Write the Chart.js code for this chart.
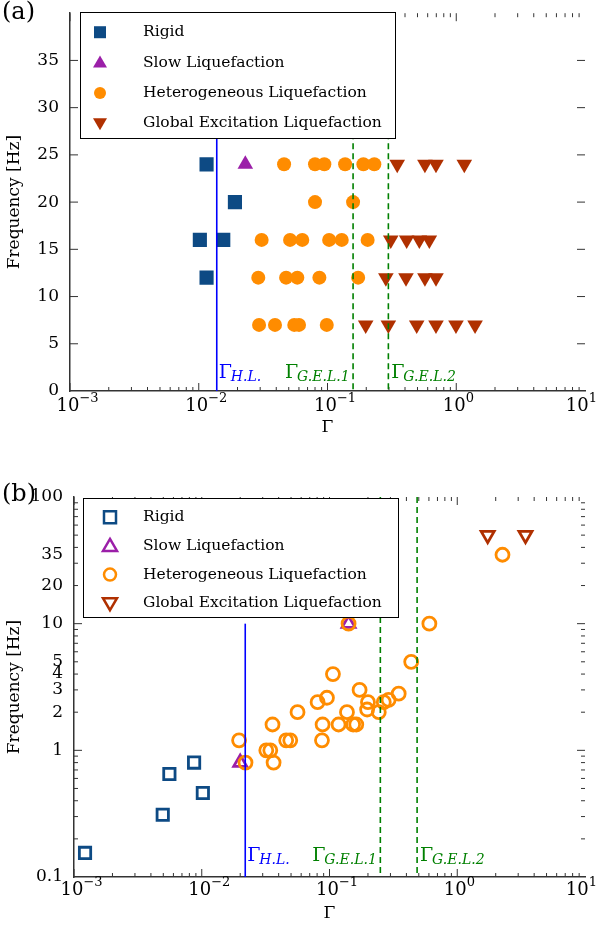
<!DOCTYPE html>
<html><head><meta charset="utf-8">
<script src="https://cdn.jsdelivr.net/npm/chart.js@4"></script>
<style>
body{margin:0;background:#fff;width:597px;height:926px;overflow:hidden;position:relative;font-family:"DejaVu Serif",serif}
.w{position:absolute;left:0;width:597px;height:463px}
.lab{position:absolute;left:2px;font-size:24px;font-family:"DejaVu Serif",serif}
</style></head><body>
<div class="w" style="top:0"><canvas id="a"></canvas></div>
<div class="w" style="top:463px"><canvas id="b"></canvas></div>
<div class="lab" style="top:-3px">(a)</div>
<div class="lab" style="top:479px">(b)</div>
<script>
// Panel (a) data [Gamma, Frequency]
const aRigid=[[0.0115,24],[0.0191,20],[0.0102,16],[0.0155,16],[0.0115,12]];
const aSlow=[[0.023,24]];
const aHet=[[0.046,24],[0.080,24],[0.0945,24],[0.137,24],[0.190,24],[0.231,24],
 [0.080,20],[0.158,20],
 [0.0308,16],[0.0512,16],[0.0637,16],[0.103,16],[0.129,16],[0.205,16],
 [0.029,12],[0.0477,12],[0.0583,12],[0.0865,12],[0.173,12],
 [0.0294,7],[0.0391,7],[0.0552,7],[0.0601,7],[0.0987,7]];
const aGlobal=[[0.348,24],[0.571,24],[0.696,24],[1.155,24],
 [0.310,16],[0.412,16],[0.517,16],[0.618,16],
 [0.284,12],[0.407,12],[0.571,12],[0.696,12],
 [0.198,7],[0.297,7],[0.493,7],[0.696,7],[0.995,7],[1.40,7]];
const aLines=[0.0138,0.158,0.297];
const aYTicks=[0,5,10,15,20,25,30,35];
// Panel (b) data
const bRigid=[[0.00122,0.155],[0.00495,0.31],[0.00558,0.65],[0.00871,0.80],[0.0102,0.46]];
const bSlow=[[0.020,0.80],[0.141,10]];
const bHet=[[0.0196,1.2],[0.022,0.8],[0.032,1.0],[0.0344,1.0],[0.0358,1.6],[0.0365,0.8],
 [0.0458,1.2],[0.0493,1.2],[0.0562,2.0],[0.0807,2.4],[0.0873,1.2],[0.0883,1.6],[0.0955,2.6],
 [0.1064,4.0],[0.1178,1.6],[0.137,2.0],[0.141,10],[0.153,1.6],[0.162,1.6],[0.172,3.0],
 [0.197,2.1],[0.200,2.4],[0.243,2.0],[0.266,2.4],[0.290,2.5],[0.348,2.8],[0.436,5.0],[0.605,10],[2.26,35]];
const bGlobal=[[1.73,50],[3.42,50]];
const bLines=[0.0219,0.250,0.485];
const bYTicks=[0.1,1,2,3,4,5,10,20,35,100];
const xTicks=[0.001,0.01,0.1,1,10];
const xExp=['−3','−2','−1','0','1'];
const names=['Rigid','Slow Liquefaction','Heterogeneous Liquefaction','Global Excitation Liquefaction'];
const cols=['#0d4a84','#9b1fa8','#ff8c00','#b03000'];
const F='"DejaVu Serif", serif';

function pts(arr){return arr.map(p=>({x:p[0],y:p[1]}));}

function overlay(lines,labY,legTop,legH,hollow,logY,tickY){
 return {id:'ov',afterDatasetsDraw(c){
  const ctx=c.ctx,a=c.chartArea,xs=c.scales.x,ys=c.scales.y;
  ctx.save();
  ctx.strokeStyle='#333';ctx.lineWidth=1;
  for(let d=-3;d<1;d++)for(let m=1;m<10;m++){
   const v=m*Math.pow(10,d),px=xs.getPixelForValue(v),L=m==1?8:4;
   ctx.beginPath();ctx.moveTo(px,a.bottom);ctx.lineTo(px,a.bottom-L);ctx.moveTo(px,a.top);ctx.lineTo(px,a.top+L);ctx.stroke();}
  const yt=logY?[0.2,0.3,0.4,0.5,0.6,0.7,0.8,0.9,1,2,3,4,5,6,7,8,9,10,20,30,40,50,60,70,80,90]:[5,10,15,20,25,30,35];
  yt.forEach(v=>{const py=ys.getPixelForValue(v),L=(logY&&[1,10].includes(v))||!logY?8:4;
   ctx.beginPath();ctx.moveTo(a.left,py);ctx.lineTo(a.left+L,py);ctx.moveTo(a.right,py);ctx.lineTo(a.right-L,py);ctx.stroke();});
  ctx.fillStyle='#000';ctx.textBaseline='alphabetic';
  xTicks.forEach((v,i)=>{const px=xs.getPixelForValue(v);
   ctx.font='18px '+F;const w1=ctx.measureText('10').width;
   ctx.font='13px '+F;const w2=ctx.measureText(xExp[i]).width;
   const x0=px-w1*0.5-2; const tw=w1+w2; const xs0=Math.min(x0,a.right+12-tw);
   ctx.font='18px '+F;ctx.fillText('10',xs0,tickY);
   ctx.font='13px '+F;ctx.fillText(xExp[i],xs0+w1,tickY-9);});
  lines.forEach((v,i)=>{const px=xs.getPixelForValue(v);
   ctx.strokeStyle=i==0?'#0000ff':'#008000';ctx.lineWidth=1.6;ctx.setLineDash(i==0?[]:[6,4]);
   ctx.beginPath();ctx.moveTo(px,i==0&&logY?ys.getPixelForValue(10):a.top);ctx.lineTo(px,a.bottom);ctx.stroke();
   ctx.setLineDash([]);
   const lx=i==0?px+2:(i==1?px-68:px+3);
   ctx.fillStyle=i==0?'#0000ff':'#008000';
   ctx.font='19px '+F;ctx.textBaseline='alphabetic';ctx.fillText('Γ',lx,labY);
   ctx.font='italic 14px '+F;ctx.fillText(['H.L.','G.E.L.1','G.E.L.2'][i],lx+12,labY+3);
  });
  const lx0=a.left+(logY?9:10);
  ctx.fillStyle='#fff';ctx.fillRect(lx0,legTop,315,legH);
  ctx.strokeStyle='#000';ctx.lineWidth=1;ctx.strokeRect(lx0+0.5,legTop+0.5,315,legH);
  const step=legH/4.15;
  names.forEach((n,i)=>{const y=legTop+step*(i+0.6)+2,mx=lx0+(hollow?27:20);
   ctx.fillStyle=cols[i];ctx.strokeStyle=cols[i];ctx.lineWidth=2.5;ctx.beginPath();
   const r=6;
   if(i==0)ctx.rect(mx-r,y-r,2*r,2*r);
   else if(i==2)ctx.arc(mx,y,r,0,7);
   else if(i==1){ctx.moveTo(mx,y-r-1);ctx.lineTo(mx+r+1,y+r-1);ctx.lineTo(mx-r-1,y+r-1);ctx.closePath();}
   else {ctx.moveTo(mx,y+r+1);ctx.lineTo(mx+r+1,y-r+1);ctx.lineTo(mx-r-1,y-r+1);ctx.closePath();}
   if(hollow){ctx.stroke();}else ctx.fill();
   ctx.fillStyle='#000';ctx.font='15.5px '+F;ctx.textBaseline='middle';ctx.fillText(n,lx0+(hollow?60:63),y);
  });
  ctx.restore();
 }};
}

function make(id,sets,hollow,logY,pad,padB,xH,yW,lines,labY,legTop,legH,tickY){
 const sz=hollow?[8,7.5,6.5,7.5]:[10,9,7,9];
 const ds=sets.map((s,i)=>({data:pts(s),pointStyle:['rect','triangle','circle','triangle'][i],
  pointRotation:i==3?180:0,radius:sz[i],hoverRadius:sz[i],
  backgroundColor:hollow?'rgba(0,0,0,0)':cols[i],borderColor:cols[i],borderWidth:hollow?2.8:0}));
 if(hollow){const t=ds[1];ds.splice(1,1);ds.splice(2,0,t);}
 new Chart(document.getElementById(id),{type:'scatter',data:{datasets:ds},
  options:{responsive:true,maintainAspectRatio:false,animation:false,
   layout:{padding:{top:pad,right:12,left:0,bottom:padB}},
   plugins:{legend:{display:false},tooltip:{enabled:false}},
   scales:{
    x:{type:'logarithmic',min:0.001,max:10,grid:{display:false},border:{color:'#333',width:1.5},
     afterBuildTicks(s){s.ticks=xTicks.map(v=>({value:v}));},
     afterFit(s){s.height=xH;},
     ticks:{autoSkip:false,maxRotation:0,color:'#000',font:{family:F,size:18},callback:()=>''},
     title:{display:true,text:'Γ',color:'#000',font:{family:F,size:17},padding:{top:0,bottom:2}}},
    y:{type:logY?'logarithmic':'linear',min:logY?0.1:0,max:logY?100:40,grid:{display:false},border:{color:'#333',width:1.5},
     afterBuildTicks(s){s.ticks=(logY?bYTicks:aYTicks).map(v=>({value:v}));},
     afterFit(s){s.width=yW;},
     ticks:{autoSkip:false,padding:3,color:'#000',font:{family:F,size:17},callback:v=>String(v)},
     title:{display:true,text:'Frequency [Hz]',color:'#000',font:{family:F,size:17},padding:{bottom:0}}}
   }},
  plugins:[overlay(lines,labY,legTop,legH,hollow,logY,tickY)]});
}
make('a',[aRigid,aSlow,aHet,aGlobal],false,false,12,23,49,70,aLines,378,12,126,411);
make('b',[bRigid,bSlow,bHet,bGlobal],true,true,34,0,49,74,bLines,398,35,119,432);
</script></body></html>
